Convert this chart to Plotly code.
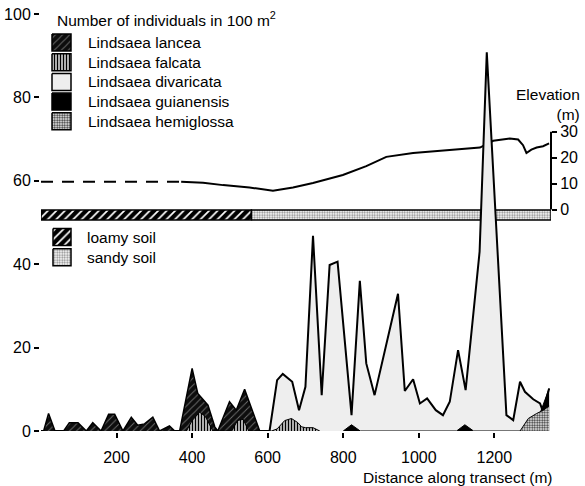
import plotly.graph_objects as go

# ---- Fern densities along the transect (individuals per 100 m2) ----
lancea_x = [0, 7, 20, 37, 60, 75, 98, 120, 137, 159, 179, 195, 217, 239, 256, 274, 296, 314,
            340, 354, 367, 400, 415, 429, 442, 460, 468, 499, 517, 539, 579]
lancea_y = [0, 0, 4.2, 0, 0, 2, 2, 0, 2, 0, 4, 4, 0, 3.3, 1.4, 1.7, 3.3, 0,
            1.2, 0, 0, 15, 9, 7.6, 6.2, 1, 0, 7, 5, 10, 0]

falcata_x = [385, 400, 420, 435, 455, 505, 520, 535, 550, 610, 625, 645, 663, 680, 690, 700, 720, 738]
falcata_y = [0, 2.5, 4.5, 3.5, 0, 0, 2.5, 2.8, 0, 0, 0.5, 2.5, 3, 2, 1, 0.8, 0.8, 0]

divaricata_x = [0, 605, 625, 640, 665, 683, 700, 720, 743, 764, 785, 822, 844, 861, 883, 945,
                963, 985, 1003, 1022, 1045, 1064, 1082, 1104, 1124, 1161, 1180, 1232, 1250,
                1268, 1281, 1303, 1321, 1329, 1345]
divaricata_y = [0, 0, 12.2, 13.7, 11.8, 5, 10.6, 46.8, 8.6, 39.8, 40.6, 3.8, 36, 16.2, 8.6, 32.9,
                9.6, 12.4, 6.6, 7.8, 5, 3.8, 7, 19.4, 9.8, 43, 90.8, 3.8, 2.6,
                11.8, 9.4, 7.6, 6.6, 4.6, 10.2]

guianensis_x = [800, 822, 845, 1100, 1122, 1145, 1295, 1320, 1345]
guianensis_y = [0, 1.5, 0, 0, 1.5, 0, 0, 4, 10.2]

hemiglossa_x = [1268, 1290, 1312, 1330, 1345]
hemiglossa_y = [0, 3, 4.2, 5, 6]

# ---- Elevation profile (m) ----
elev_est_x = [0, 371]
elev_est_y = [10.7, 10.7]
elev_x = [371, 429, 482, 552, 614, 667, 720, 799, 861, 914, 985, 1056, 1120, 1162,
          1197, 1241, 1263, 1276, 1285, 1298, 1312, 1329, 1345]
elev_y = [10.7, 10.3, 9.4, 8.5, 7.2, 8.5, 10.2, 13.3, 16.7, 20.3, 21.8, 22.6, 23.2, 23.9,
          26.5, 27.4, 27.0, 24.8, 21.8, 23.1, 23.9, 24.4, 25.5]

# ---- Soil types along the transect ----
transect_end = 1350
loamy_end = 557

dist_ticks = [200, 400, 600, 800, 1000, 1200]
count_ticks = [0, 20, 40, 60, 80, 100]
elev_ticks = [0, 10, 20, 30]

FONT = "Liberation Sans, Arial, Helvetica, sans-serif"
W, H = 585, 486
L, R, T, B = 41, 34, 14, 55
PW, PH = W - L - R, H - T - B


def px(xp):
    return (xp - L) / PW


def py(yp):
    return (H - B - yp) / PH


styles = {
    "Lindsaea lancea": dict(fillcolor="black",
                            fillpattern=dict(shape="/", bgcolor="#0d0d0d", fgcolor="#6e6e6e",
                                             size=5, solidity=0.18)),
    "Lindsaea falcata": dict(fillcolor="white",
                             fillpattern=dict(shape="|", bgcolor="white", fgcolor="black",
                                              size=3, solidity=0.55)),
    "Lindsaea divaricata": dict(fillcolor="#eeeeee"),
    "Lindsaea guianensis": dict(fillcolor="black"),
    "Lindsaea hemiglossa": dict(fillcolor="#aaaaaa",
                                fillpattern=dict(shape=".", bgcolor="white", fgcolor="#333333",
                                                 size=2.5, solidity=0.5)),
}
soil_styles = {
    "loamy soil": dict(fillcolor="black",
                       fillpattern=dict(shape="/", bgcolor="black", fgcolor="white",
                                        size=6, solidity=0.28)),
    "sandy soil": dict(fillcolor="#dddddd",
                       fillpattern=dict(shape=".", bgcolor="white", fgcolor="#888888",
                                        size=2.5, solidity=0.45)),
}

fig = go.Figure()

# elevation on the base axis, so the fern areas (overlaying axis) sit above it
fig.add_trace(go.Scatter(x=elev_est_x, y=elev_est_y, mode="lines", xaxis="x", yaxis="y",
                         zorder=0, line=dict(color="black", width=2, dash="12px,9px")))
fig.add_trace(go.Scatter(x=elev_x, y=elev_y, mode="lines", xaxis="x", yaxis="y",
                         zorder=0, line=dict(color="black", width=2)))

# soil band
band_lo, band_hi = 50.6, 53.0
fig.add_trace(go.Scatter(x=[0, loamy_end, loamy_end, 0, 0],
                         y=[band_lo, band_lo, band_hi, band_hi, band_lo],
                         fill="toself", mode="lines", xaxis="x", yaxis="y2", zorder=0,
                         line=dict(color="black", width=1.5), **soil_styles["loamy soil"]))
fig.add_trace(go.Scatter(x=[loamy_end, transect_end, transect_end, loamy_end, loamy_end],
                         y=[band_lo, band_lo, band_hi, band_hi, band_lo],
                         fill="toself", mode="lines", xaxis="x", yaxis="y2", zorder=0,
                         line=dict(color="black", width=1.5), **soil_styles["sandy soil"]))

# fern densities
series = [
    ("Lindsaea divaricata", divaricata_x, divaricata_y, 2),
    ("Lindsaea guianensis", guianensis_x, guianensis_y, 1),
    ("Lindsaea lancea", lancea_x, lancea_y, 1.5),
    ("Lindsaea falcata", falcata_x, falcata_y, 1),
    ("Lindsaea hemiglossa", hemiglossa_x, hemiglossa_y, 1),
]
for name, xs, ys, lw in series:
    fig.add_trace(go.Scatter(x=xs, y=ys, name=name, mode="lines", fill="tozeroy",
                             xaxis="x", yaxis="y2", zorder=1,
                             line=dict(color="black", width=lw), **styles[name]))

# legend swatches drawn in pixel space
annotations = []
legend_order = ["Lindsaea lancea", "Lindsaea falcata", "Lindsaea divaricata",
                "Lindsaea guianensis", "Lindsaea hemiglossa"]
for i, name in enumerate(legend_order):
    cy = 42.5 + i * 19.7
    fig.add_trace(go.Scatter(x=[52, 71, 71, 52, 52], y=[cy - 8.5, cy - 8.5, cy + 8.5, cy + 8.5, cy - 8.5],
                             fill="toself", mode="lines", xaxis="x3", yaxis="y4",
                             line=dict(color="black", width=1.5), **styles[name]))
    annotations.append(dict(x=px(86), y=py(cy), xref="paper", yref="paper", text=name,
                            showarrow=False, xanchor="left", yanchor="middle"))
for i, name in enumerate(["loamy soil", "sandy soil"]):
    cy = 237 + i * 20.3
    fig.add_trace(go.Scatter(x=[53, 71, 71, 53, 53], y=[cy - 8.5, cy - 8.5, cy + 8.5, cy + 8.5, cy - 8.5],
                             fill="toself", mode="lines", xaxis="x3", yaxis="y4",
                             line=dict(color="black", width=1.5), **soil_styles[name]))
    annotations.append(dict(x=px(85), y=py(cy), xref="paper", yref="paper", text=name,
                            showarrow=False, xanchor="left", yanchor="middle"))

annotations += [
    dict(x=px(55), y=py(19), xref="paper", yref="paper",
         text="Number of individuals in 100 m<sup>2</sup>",
         showarrow=False, xanchor="left", yanchor="middle"),
    dict(x=px(582), y=py(105), xref="paper", yref="paper", text="Elevation<br>(m)", align="right",
         showarrow=False, xanchor="right", yanchor="middle"),
    dict(x=px(555), y=py(477), xref="paper", yref="paper", text="Distance along transect (m)",
         showarrow=False, xanchor="right", yanchor="middle"),
]

# elevation scale: 0 m at pixel row 209.5, 30 m at pixel row 131.7
m_per_px = 30 / (209.5 - 131.7)
elev_range = [-(H - B - 209.5) * m_per_px, 30 + (131.7 - T) * m_per_px]

axis_common = dict(showline=True, linecolor="black", linewidth=2, ticks="outside",
                   ticklen=5, tickwidth=2, tickcolor="black", showgrid=False,
                   zeroline=False, automargin=False, tickfont=dict(size=16))

shapes = [dict(type="line", xref="paper", yref="y", x0=1, x1=1, y0=0, y1=30,
               line=dict(color="black", width=2))]

fig.update_layout(
    template="none",
    width=W, height=H,
    margin=dict(l=L, r=R, t=T, b=B, pad=0),
    paper_bgcolor="white", plot_bgcolor="rgba(0,0,0,0)",
    showlegend=False,
    font=dict(family=FONT, size=15.5, color="black"),
    xaxis=dict(range=[0, transect_end], domain=[0, 1], anchor="y",
               tickvals=dist_ticks, ticklabelstandoff=6, **axis_common),
    yaxis=dict(range=elev_range, domain=[0, 1], anchor="x", side="right",
               tickvals=elev_ticks, **{**axis_common, "showline": False}),
    yaxis2=dict(range=[0, 100], overlaying="y", anchor="x", side="left",
                tickvals=count_ticks, **axis_common),
    xaxis3=dict(range=[L, W - R], domain=[0, 1], anchor="y4", visible=False),
    yaxis4=dict(range=[H - B, T], domain=[0, 1], anchor="x3", visible=False),
    annotations=annotations,
    shapes=shapes,
)

fig.write_html("out.html")
